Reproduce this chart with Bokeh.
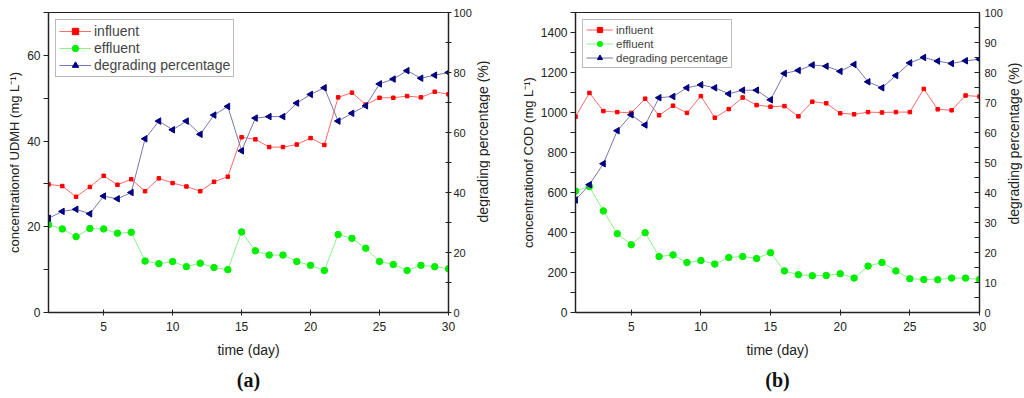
import math
from bokeh.plotting import figure
from bokeh.models import Range1d, LinearAxis, Title, Legend, LegendItem, FixedTicker
from bokeh.core.properties import value
from bokeh.layouts import row
from bokeh.embed import file_html
from bokeh.resources import INLINE

days = list(range(1, 31))

udmh_influent = [29.9, 29.5, 27.0, 29.3, 31.9, 29.8, 31.1, 28.3, 31.3, 30.2,
                 29.4, 28.3, 30.5, 31.7, 40.9, 40.4, 38.6, 38.6, 39.2, 40.7,
                 39.1, 50.2, 51.3, 48.5, 50.1, 50.1, 50.5, 50.2, 51.5, 50.9]
udmh_effluent = [20.5, 19.5, 17.7, 19.6, 19.5, 18.5, 18.7, 12.0, 11.4, 11.9,
                 10.7, 11.5, 10.5, 10.0, 18.8, 14.4, 13.4, 13.4, 11.9, 11.0,
                 9.8, 18.2, 17.3, 15.0, 11.9, 11.2, 9.8, 11.0, 10.7, 10.2]
udmh_degrading = [31.4, 33.7, 34.4, 32.9, 38.8, 37.9, 40.0, 57.9, 63.8, 60.9,
                  63.8, 59.4, 65.8, 68.7, 53.9, 64.8, 65.3, 65.3, 69.8, 72.7,
                  74.9, 63.8, 66.4, 68.9, 76.2, 77.8, 80.6, 78.1, 79.1, 80.0]

cod_influent = [979, 1098, 1007, 1002, 998, 1069, 986, 1034, 998, 1082,
                974, 1017, 1075, 1037, 1029, 1032, 981, 1054, 1046, 996,
                991, 1002, 1000, 1002, 1002, 1118, 1016, 1011, 1085, 1080]
cod_effluent = [607, 630, 508, 394, 339, 399, 280, 288, 250, 260,
                242, 275, 280, 270, 299, 208, 189, 184, 185, 194,
                172, 232, 250, 208, 169, 165, 164, 172, 172, 165]
cod_degrading = [37.5, 42.6, 49.6, 60.6, 65.9, 62.5, 71.6, 72.0, 74.9, 75.9,
                 74.9, 72.9, 74.1, 74.1, 70.9, 79.7, 80.7, 82.5, 82.1, 80.4,
                 82.7, 76.9, 74.9, 79.0, 83.2, 85.0, 83.8, 83.0, 83.9, 84.4]

x_ticks = [5, 10, 15, 20, 25, 30]
series_labels = ["influent", "effluent", "degrading percentage"]
right_label = "degrading percentage (%)"

FONT = "Liberation Sans"
RED_M, RED_L = "#ff0000", "#ff6a6a"
GRN_M, GRN_L = "#00ee00", "#8cf08c"
BLU_M, BLU_L = "#000080", "#7777b0"


def style_axis(ax, size="12px"):
    ax.axis_line_color = "#222222"
    ax.axis_line_width = 1.3
    ax.major_tick_line_color = "#222222"
    ax.minor_tick_line_color = "#222222"
    ax.major_label_text_font = FONT
    ax.major_label_text_font_size = size
    ax.major_label_text_color = "#222222"
    ax.axis_label_text_font = FONT
    ax.axis_label_text_font_style = "normal"
    ax.axis_label_text_color = "#222222"


def make_panel(infl, effl, degr, ylab, ymax, yticks, yminor, rticks, rminor,
               caption, width, height, bl, br, bb, r_in, r_out, r_standoff,
               legend_font, legend_h, glyph_w):
    p = figure(width=width, height=height, output_backend="svg",
               toolbar_location=None, x_range=Range1d(1, 30),
               y_range=Range1d(0, ymax),
               min_border_left=bl, min_border_right=br,
               min_border_top=12, min_border_bottom=bb)
    p.extra_y_ranges = {"pct": Range1d(0, 100)}
    p.xgrid.visible = False
    p.ygrid.visible = False
    p.outline_line_color = "#222222"
    p.outline_line_width = 1.2
    p.background_fill_color = "white"
    p.border_fill_color = "white"

    xa = p.xaxis[0]
    style_axis(xa)
    xa.ticker = FixedTicker(ticks=x_ticks)
    xa.major_tick_in = 3
    xa.major_tick_out = 3
    xa.major_label_standoff = 6
    xa.axis_label = "time (day)"
    xa.axis_label_text_font_size = "14px"
    xa.axis_label_standoff = 8

    ya = p.yaxis[0]
    style_axis(ya)
    ya.ticker = FixedTicker(ticks=yticks, minor_ticks=yminor)
    ya.major_tick_in = 0
    ya.major_tick_out = 5
    ya.minor_tick_in = 0
    ya.minor_tick_out = 5
    ya.major_label_standoff = 3
    ya.axis_label = ylab
    ya.axis_label_text_font_size = "13px"
    ya.axis_label_standoff = 2

    ra = LinearAxis(y_range_name="pct")
    style_axis(ra, "11px")
    ra.ticker = FixedTicker(ticks=rticks, minor_ticks=rminor)
    ra.major_tick_in = r_in
    ra.major_tick_out = r_out
    ra.minor_tick_in = r_in
    ra.minor_tick_out = r_out
    ra.major_label_standoff = r_standoff
    p.add_layout(ra, "right")

    l1 = p.line(days, infl, line_color=RED_L, line_width=1)
    m1 = p.scatter(days, infl, marker="square", size=3.5, fill_color=RED_M,
                   line_color=RED_M)
    l2 = p.line(days, effl, line_color=GRN_L, line_width=1)
    m2 = p.scatter(days, effl, marker="circle", size=6.5, fill_color=GRN_M,
                   line_color=GRN_M)
    l3 = p.line(days, degr, line_color=BLU_L, line_width=1, y_range_name="pct")
    m3 = p.scatter(days, degr, marker="triangle", size=6.5, angle=90,
                   angle_units="deg",
                   fill_color=BLU_M, line_color=BLU_M, y_range_name="pct")

    legend = Legend(items=[
        LegendItem(label=series_labels[0], renderers=[l1, m1]),
        LegendItem(label=series_labels[1], renderers=[l2, m2]),
        LegendItem(label=series_labels[2], renderers=[l3, m3]),
    ], location="top_left")
    legend.margin = 7
    legend.padding = 3
    legend.spacing = 1
    legend.label_height = legend_h
    legend.glyph_height = legend_h
    legend.glyph_width = glyph_w
    legend.label_standoff = 3
    legend.label_text_font = FONT
    legend.label_text_font_size = legend_font
    legend.border_line_color = "#777777"
    legend.border_line_width = 1
    legend.background_fill_alpha = 1.0
    p.add_layout(legend, "center")

    t = Title(text=caption, align="center", text_font="Liberation Serif",
              text_font_style="bold", text_font_size="20px",
              text_color="#111111", standoff=12)
    p.add_layout(t, "below")
    return p


def make_side_label(width, height, bb, xpos, ypos):
    q = figure(width=width, height=height, output_backend="svg",
               toolbar_location=None, x_range=Range1d(0, 1),
               y_range=Range1d(0, 1), x_axis_location=None,
               y_axis_location=None, min_border_left=0, min_border_right=0,
               min_border_top=12, min_border_bottom=bb)
    q.xgrid.visible = False
    q.ygrid.visible = False
    q.outline_line_color = None
    q.background_fill_color = "white"
    q.border_fill_color = "white"
    q.text(x=[xpos], y=[ypos], text=[right_label], angle=90, angle_units="deg",
           text_align="center", text_baseline="middle",
           text_font=value(FONT), text_font_size="14px", text_color="#222222")
    return q


pa = make_panel(udmh_influent, udmh_effluent, udmh_degrading,
                "concentrationof UDMH (mg L\u207b\u00b9)", 70,
                [0, 20, 40, 60], [10, 30, 50, 70],
                [0, 20, 40, 60, 80, 100], [10, 30, 50, 70, 90],
                "(a)", 474, 396, 48, 24, 84, 3, 3, 2, "14px", 16, 32)
la = make_side_label(16, 396, 84, 0.5, 0.57)
pb = make_panel(cod_influent, cod_effluent, cod_degrading,
                "concentrationof COD (mg L\u207b\u00b9)", 1500,
                [0, 200, 400, 600, 800, 1000, 1200, 1400],
                [100, 300, 500, 700, 900, 1100, 1300, 1500],
                list(range(0, 101, 10)), list(range(5, 100, 10)),
                "(b)", 515, 396, 85, 24, 82, 5, 0, 5, "11.5px", 13, 27)
lb = make_side_label(19, 396, 82, 0.47, 0.563)

layout = row(pa, la, pb, lb)
open("out.html", "w").write(file_html(layout, INLINE))
